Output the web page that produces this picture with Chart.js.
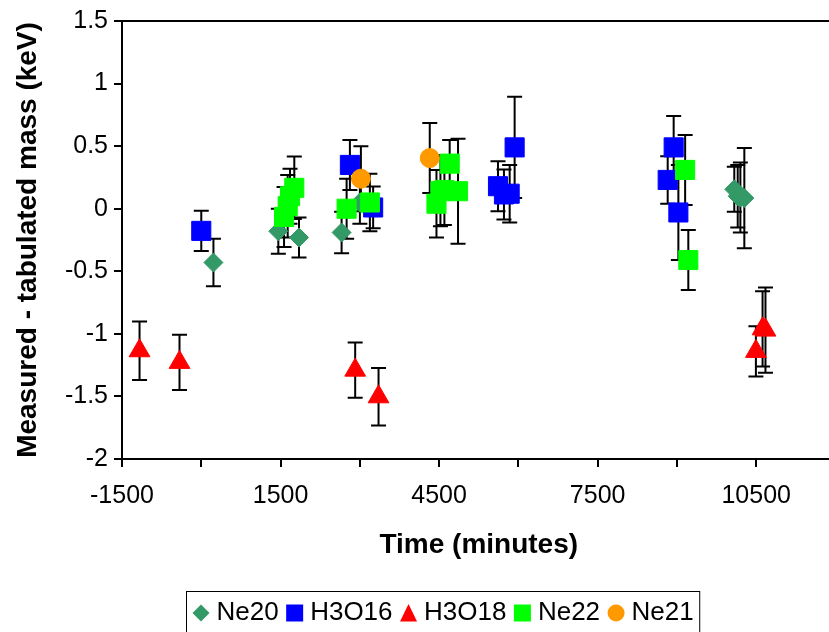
<!DOCTYPE html>
<html>
<head>
<meta charset="utf-8">
<title>Measured - tabulated mass</title>
<script src="https://cdn.jsdelivr.net/npm/chart.js@4/dist/chart.umd.min.js"></script>
<style>
html, body { margin: 0; padding: 0; overflow: hidden; background: #fff; }
canvas { display: block; }
</style>
</head>
<body>
<canvas id="chart" width="850" height="632"></canvas>
<script>
// values: time (minutes), mass difference (keV), error (keV)
const ne20Time = [230, 1458, 1849, 2655, 3001, 10085, 10150, 10200, 10275];
const ne20Mass = [-0.43, -0.18, -0.23, -0.19, 0.05, 0.155, 0.10, 0.09, 0.085];
const ne20Err  = [0.19, 0.18, 0.16, 0.165, 0.17, 0.18, 0.25, 0.28, 0.40];

const h3o16Time = [0, 2812, 3252, 5614, 5727, 5835, 5929, 8825, 8938, 9027];
const h3o16Mass = [-0.177, 0.35, 0.01, 0.18, 0.114, 0.12, 0.49, 0.23, 0.49, -0.03];
const h3o16Err  = [0.16, 0.2, 0.167, 0.2, 0.2, 0.23, 0.405, 0.19, 0.25, 0.38];

const h3o18Time = [-1168, -412, 2912, 3354, 10494, 10620, 10675];
const h3o18Mass = [-1.135, -1.228, -1.29, -1.503, -1.14, -0.96, -0.97];
const h3o18Err  = [0.233, 0.22, 0.22, 0.23, 0.2, 0.3, 0.34];

const ne22Time = [1566, 1635, 1679, 1760, 2750, 3190, 4450, 4525, 4600, 4700, 4858, 9155, 9215];
const ne22Mass = [-0.066, 0.02, 0.10, 0.167, 0.0, 0.05, 0.04, 0.14, 0.15, 0.36, 0.14, 0.31, -0.41];
const ne22Err  = [0.24, 0.25, 0.22, 0.25, 0.24, 0.23, 0.27, 0.28, 0.28, 0.19, 0.42, 0.28, 0.24];

const ne21Time = [3020, 4323];
const ne21Mass = [0.24, 0.405];
const ne21Err  = [0.26, 0.28];

const xTicks = [-1500, 0, 1500, 3000, 4500, 6000, 7500, 9000, 10500, 12000];
const xTickLabels = [-1500, 1500, 4500, 7500, 10500];

const FONT = '"Liberation Sans", Arial, sans-serif';

function points(xs, ys) {
    return xs.map(function (x, i) { return { x: x, y: ys[i] }; });
}

function series(label, xs, ys, errs, color, style, radius, order) {
    return {
        label: label,
        data: points(xs, ys),
        errors: errs,
        backgroundColor: color,
        borderColor: color,
        borderWidth: 1,
        pointStyle: style,
        pointRadius: radius,
        showLine: false,
        order: order
    };
}

const datasets = [
    series('Ne20', ne20Time, ne20Mass, ne20Err, '#339966', 'rectRot', 9.5, 5),
    series('H3O16', h3o16Time, h3o16Mass, h3o16Err, '#0000FF', 'rect', 13.5, 4),
    series('H3O18', h3o18Time, h3o18Mass, h3o18Err, '#FF0000', 'triangle', 12, 3),
    series('Ne22', ne22Time, ne22Mass, ne22Err, '#00FF00', 'rect', 13.5, 2),
    series('Ne21', ne21Time, ne21Mass, ne21Err, '#FF9900', 'circle', 9.5, 1)
];

// vertical error bars with caps, under the markers
const errorBars = {
    id: 'errorBars',
    beforeDatasetsDraw(chart) {
        const ctx = chart.ctx;
        const yScale = chart.scales.y;
        ctx.save();
        ctx.strokeStyle = '#000';
        ctx.lineWidth = 2;
        chart.data.datasets.forEach(function (ds, i) {
            const meta = chart.getDatasetMeta(i);
            meta.data.forEach(function (pt, j) {
                const v = ds.data[j].y;
                const e = ds.errors[j];
                const top = yScale.getPixelForValue(v + e);
                const bot = yScale.getPixelForValue(v - e);
                ctx.beginPath();
                ctx.moveTo(pt.x, top);
                ctx.lineTo(pt.x, bot);
                ctx.moveTo(pt.x - 7.5, top);
                ctx.lineTo(pt.x + 7.5, top);
                ctx.moveTo(pt.x - 7.5, bot);
                ctx.lineTo(pt.x + 7.5, bot);
                ctx.stroke();
            });
        });
        ctx.restore();
    }
};

// top and right sides of the plot frame
const frame = {
    id: 'frame',
    afterDraw(chart) {
        const a = chart.chartArea;
        const ctx = chart.ctx;
        ctx.save();
        ctx.strokeStyle = '#000';
        ctx.lineWidth = 2;
        ctx.beginPath();
        ctx.moveTo(a.left, a.top);
        ctx.lineTo(a.right, a.top);
        ctx.lineTo(a.right, a.bottom);
        ctx.stroke();
        ctx.restore();
    }
};

function legendMarker(ctx, style, color, x, y) {
    ctx.fillStyle = color;
    ctx.beginPath();
    if (style === 'rectRot') {
        ctx.moveTo(x, y - 8.5);
        ctx.lineTo(x + 8.5, y);
        ctx.lineTo(x, y + 8.5);
        ctx.lineTo(x - 8.5, y);
        ctx.closePath();
    } else if (style === 'rect') {
        ctx.rect(x - 8.5, y - 8.5, 17, 17);
    } else if (style === 'triangle') {
        ctx.moveTo(x, y - 9);
        ctx.lineTo(x + 8.5, y + 8.5);
        ctx.lineTo(x - 8.5, y + 8.5);
        ctx.closePath();
    } else {
        ctx.arc(x, y, 8.5, 0, Math.PI * 2);
    }
    ctx.fill();
}

// boxed legend below the axis title
const boxLegend = {
    id: 'boxLegend',
    afterDraw(chart) {
        const ctx = chart.ctx;
        const y = 613;
        ctx.save();
        ctx.font = '26px ' + FONT;
        ctx.textBaseline = 'middle';
        let mx = 201;
        let end = 0;
        chart.data.datasets.forEach(function (ds) {
            legendMarker(ctx, ds.pointStyle, ds.backgroundColor, mx, y);
            ctx.fillStyle = '#000';
            const tx = mx + 15.5;
            ctx.fillText(ds.label, tx, y);
            end = tx + ctx.measureText(ds.label).width;
            mx = end + 16;
        });
        ctx.strokeStyle = '#000';
        ctx.lineWidth = 1;
        ctx.strokeRect(186.5, 591.5, end + 6 - 186.5, 60);
        ctx.restore();
    }
};

new Chart(document.getElementById('chart'), {
    type: 'scatter',
    data: { datasets: datasets },
    plugins: [errorBars, frame, boxLegend],
    options: {
        responsive: false,
        animation: false,
        devicePixelRatio: 1,
        events: [],
        layout: { padding: { top: 19, right: 14, bottom: 62, left: 0 } },
        plugins: { legend: { display: false }, tooltip: { enabled: false } },
        scales: {
            x: {
                type: 'linear',
                min: -1500,
                max: 12000,
                afterBuildTicks: function (scale) {
                    scale.ticks = xTicks.map(function (v) { return { value: v }; });
                },
                afterFit: function (scale) { scale.height = 111; },
                ticks: {
                    autoSkip: false,
                    maxRotation: 0,
                    padding: 14,
                    color: '#000',
                    font: { family: FONT, size: 25 },
                    callback: function (v) { return xTickLabels.indexOf(v) >= 0 ? String(v) : ''; }
                },
                grid: { drawOnChartArea: false, tickLength: 8, color: '#000', lineWidth: 2 },
                border: { display: true, color: '#000', width: 2 },
                title: {
                    display: true,
                    text: 'Time (minutes)',
                    color: '#000',
                    padding: { top: 0, bottom: 8 },
                    font: { family: FONT, size: 28, weight: 'bold' }
                }
            },
            y: {
                min: -2,
                max: 1.5,
                afterFit: function (scale) { scale.width = 122; },
                ticks: {
                    stepSize: 0.5,
                    padding: 6,
                    color: '#000',
                    font: { family: FONT, size: 25 },
                    callback: function (v) { return String(Math.round(v * 10) / 10); }
                },
                grid: { drawOnChartArea: false, tickLength: 8, color: '#000', lineWidth: 2 },
                border: { display: true, color: '#000', width: 2 },
                title: {
                    display: true,
                    text: 'Measured - tabulated mass (keV)',
                    color: '#000',
                    padding: { top: 11, bottom: 0 },
                    font: { family: FONT, size: 28, weight: 'bold' }
                }
            }
        }
    }
});
</script>
</body>
</html>
